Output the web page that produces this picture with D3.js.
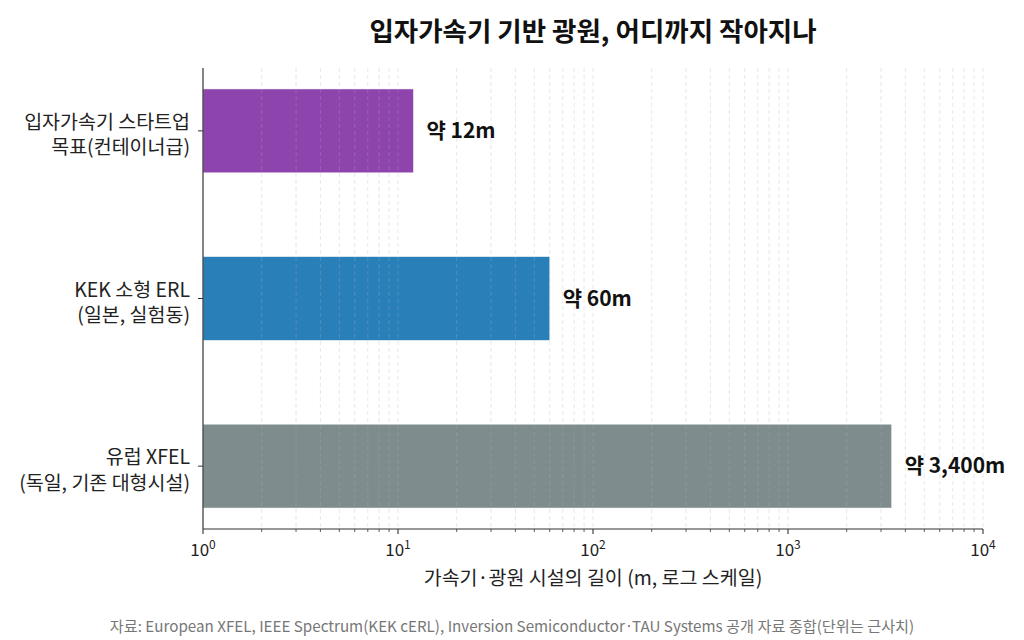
<!DOCTYPE html>
<html>
<head>
<meta charset="utf-8">
<script src="https://cdn.jsdelivr.net/npm/d3@7"></script>
<style>
  body { margin: 0; background: #fff; }
  svg text { font-family: "Noto Sans CJK KR", "Noto Sans", sans-serif; }
</style>
</head>
<body>
<svg id="chart" width="1024" height="640"></svg>
<script>
// chart data
const categories = [
  ["입자가속기 스타트업", "목표(컨테이너급)"],
  ["KEK 소형 ERL", "(일본, 실험동)"],
  ["유럽 XFEL", "(독일, 기존 대형시설)"]
];
const lengths = [12, 60, 3400];
const valueLabels = ["약 12m", "약 60m", "약 3,400m"];
const barColors = ["#8e44ad", "#2980b9", "#7f8c8d"];
const xTicks = [1, 10, 100, 1000, 10000];

const svg = d3.select("#chart");
const plotL = 203, plotR = 983, plotT = 68, plotB = 529;

// log x scale, bars on a linear index scale (like matplotlib barh)
const x = d3.scaleLog().domain([1, 10000]).range([plotL, plotR]);
const y = d3.scaleLinear().domain([-0.375, 2.375]).range([plotT, plotB]);
const barH = y(0.25) - y(-0.25);

// major + minor tick values
let gridVals = [];
for (let e = 0; e < 4; e++) {
  for (let m = 1; m < 10; m++) gridVals.push(m * Math.pow(10, e));
}
gridVals.push(10000);

// bars
svg.append("g").selectAll("rect")
  .data(lengths)
  .enter().append("rect")
  .attr("x", x(1))
  .attr("y", (d, i) => y(i) - barH / 2)
  .attr("width", d => x(d) - x(1))
  .attr("height", barH)
  .attr("fill", (d, i) => barColors[i])
  .attr("stroke", "#fff")
  .attr("stroke-opacity", 0.6)
  .attr("stroke-width", 0.8);

// gridlines drawn over the bars (matplotlib default zorder)
svg.append("g").selectAll("line")
  .data(gridVals.filter(v => v > 1))
  .enter().append("line")
  .attr("x1", d => x(d)).attr("x2", d => x(d))
  .attr("y1", plotT).attr("y2", plotB)
  .attr("stroke", "#b0b0b0")
  .attr("stroke-opacity", 0.3)
  .attr("stroke-dasharray", "4,3")
  .attr("stroke-width", 1);

// value labels
svg.append("g").selectAll("text")
  .data(lengths)
  .enter().append("text")
  .attr("x", d => x(d) + 13)
  .attr("y", (d, i) => y(i))
  .attr("dy", "0.35em")
  .attr("font-size", 21)
  .attr("font-weight", "bold")
  .attr("fill", "#111")
  .text((d, i) => valueLabels[i]);

// x axis
const gx = svg.append("g").attr("transform", `translate(0,${plotB})`);
gx.append("line").attr("x1", plotL).attr("x2", plotR)
  .attr("stroke", "#333").attr("stroke-width", 1.2);
gx.selectAll("line.tk")
  .data(gridVals)
  .enter().append("line").attr("class", "tk")
  .attr("x1", d => x(d)).attr("x2", d => x(d))
  .attr("y1", 0)
  .attr("y2", d => xTicks.includes(d) ? 5 : 3)
  .attr("stroke", "#333").attr("stroke-width", d => xTicks.includes(d) ? 1.1 : 0.8);
const tl = gx.selectAll("text.tl")
  .data(xTicks)
  .enter().append("text").attr("class", "tl")
  .attr("x", d => x(d))
  .attr("y", 27)
  .attr("text-anchor", "middle")
  .attr("font-size", 17)
  .attr("fill", "#222");
tl.append("tspan").text("10");
tl.append("tspan").attr("dy", -7).attr("font-size", 12)
  .text(d => Math.round(Math.log10(d)));

// y axis
const gy = svg.append("g");
gy.append("line").attr("x1", plotL).attr("x2", plotL)
  .attr("y1", plotT).attr("y2", plotB)
  .attr("stroke", "#333").attr("stroke-width", 1.2);
categories.forEach((c, i) => {
  gy.append("line").attr("x1", plotL - 5).attr("x2", plotL)
    .attr("y1", y(i)).attr("y2", y(i))
    .attr("stroke", "#333");
  // one text per line so the two rows stay separate
  c.forEach((line, k) => {
    gy.append("text")
      .attr("x", plotL - 13)
      .attr("y", y(i) - 2 + k * 25.6)
      .attr("text-anchor", "end")
      .attr("font-size", 19.5)
      .attr("fill", "#222")
      .text(line);
  });
});

// titles
svg.append("text")
  .attr("x", (plotL + plotR) / 2).attr("y", 41)
  .attr("text-anchor", "middle")
  .attr("font-size", 26.5).attr("font-weight", "bold")
  .attr("fill", "#111")
  .text("입자가속기 기반 광원, 어디까지 작아지나");

svg.append("text")
  .attr("x", (plotL + plotR) / 2).attr("y", 585)
  .attr("text-anchor", "middle")
  .attr("font-size", 19.5).attr("fill", "#222")
  .text("가속기·광원 시설의 길이 (m, 로그 스케일)");

svg.append("text")
  .attr("x", 512).attr("y", 632)
  .attr("text-anchor", "middle")
  .attr("font-size", 15.2).attr("fill", "#777")
  .text("자료: European XFEL, IEEE Spectrum(KEK cERL), Inversion Semiconductor·TAU Systems 공개 자료 종합(단위는 근사치)");
</script>
</body>
</html>
